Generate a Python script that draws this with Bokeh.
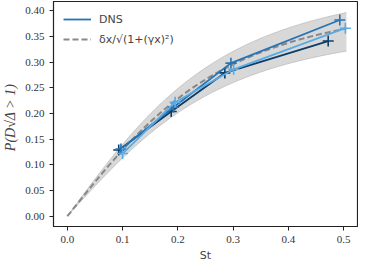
import numpy as np
from bokeh.plotting import figure
from bokeh.models import Range1d, FixedTicker, Legend, LegendItem
from bokeh.embed import file_html
from bokeh.resources import INLINE

# --- data ---
st_dark = [0.093, 0.188, 0.285, 0.472]
p_dark = [0.129, 0.204, 0.279, 0.341]
st_mid = [0.097, 0.192, 0.296, 0.493]
p_mid = [0.131, 0.212, 0.298, 0.382]
st_light = [0.100, 0.195, 0.301, 0.503]
p_light = [0.122, 0.222, 0.286, 0.366]

# fit curve parameters  delta*x / sqrt(1 + (gamma*x)^2)
fit_delta = 1.35
fit_gamma = 3.12
band_low = 0.88
band_high = 1.085
fit_xmax = 0.505

x_ticks = [0.0, 0.1, 0.2, 0.3, 0.4, 0.5]
y_ticks = [0.0, 0.05, 0.10, 0.15, 0.20, 0.25, 0.30, 0.35, 0.40]

c_dark = "#0e3d66"
c_mid = "#2474b5"
c_light = "#5aaae6"

serif = "Liberation Serif"
sans = "DejaVu Sans"

p = figure(width=358, height=264, output_backend="svg", toolbar_location=None,
           x_range=Range1d(-0.025, 0.525), y_range=Range1d(-0.02, 0.418),
           min_border_left=10, min_border_right=1, min_border_top=1, min_border_bottom=4)
p.grid.visible = False
p.outline_line_color = "#222222"
p.outline_line_width = 1.2

xf = np.linspace(0, fit_xmax, 120)
yf = fit_delta * xf / np.sqrt(1 + (fit_gamma * xf) ** 2)
p.varea(x=xf, y1=yf * band_low, y2=yf * band_high, fill_color="#c8c8c8", fill_alpha=0.7)
p.line(xf, yf * band_low, line_color="#bdbdbd", line_width=0.8)
p.line(xf, yf * band_high, line_color="#bdbdbd", line_width=0.8)
fit_r = p.line(xf, yf, line_color="#888888", line_dash="6 3", line_width=2)

renderers = []
for xs, ys, c in [(st_dark, p_dark, c_dark), (st_mid, p_mid, c_mid), (st_light, p_light, c_light)]:
    r = p.line(xs, ys, line_color=c, line_width=1.8)
    p.scatter(xs, ys, marker="cross", size=11, line_color=c, line_width=1.6)
    renderers.append(r)

legend = Legend(items=[LegendItem(label="DNS", renderers=[renderers[1]]),
                       LegendItem(label="δx/√(1+(γx)²)", renderers=[fit_r])],
                location="top_left", border_line_alpha=0, background_fill_alpha=0,
                label_text_font=sans, label_text_font_size="11px",
                glyph_width=28, glyph_height=16, label_height=16, spacing=4,
                padding=4, margin=6, label_standoff=8)
p.add_layout(legend)

for ax in (p.xaxis[0], p.yaxis[0]):
    ax.major_label_text_font = serif
    ax.major_label_text_font_size = "11px"
    ax.major_label_text_color = "#333333"
    ax.axis_line_color = "#222222"
    ax.major_tick_line_color = "#222222"
    ax.minor_tick_line_color = None
    ax.major_tick_in = 0
    ax.major_tick_out = 4
    ax.axis_label_text_font_style = "normal"

p.xaxis.ticker = FixedTicker(ticks=x_ticks)
p.yaxis.ticker = FixedTicker(ticks=y_ticks)
p.xaxis.major_label_overrides = {t: f"{t:.1f}" for t in x_ticks}
p.yaxis.major_label_overrides = {t: f"{t:.2f}" for t in y_ticks}
p.xaxis.axis_label = "St"
p.xaxis.axis_label_text_font = sans
p.xaxis.axis_label_text_font_size = "11px"
p.xaxis.axis_label_standoff = 3
p.yaxis.axis_label = "P(D√Δ  >  1)"
p.yaxis.axis_label_text_font = serif
p.yaxis.axis_label_text_font_style = "italic"
p.yaxis.axis_label_text_font_size = "14px"
p.yaxis.axis_label_standoff = 4

open("out.html", "w").write(file_html(p, INLINE))
